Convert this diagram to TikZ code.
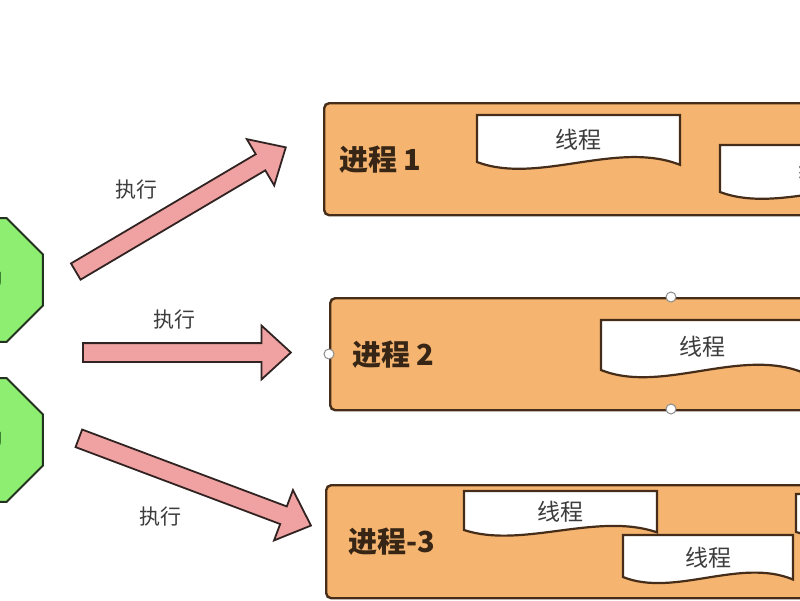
\documentclass[tikz,border=0pt]{standalone}
\usepackage{fontspec}
\setmainfont{Noto Sans CJK SC}
\usetikzlibrary{shapes.geometric,shapes.arrows}

\definecolor{procfill}{RGB}{245,180,111}
\definecolor{procline}{RGB}{70,45,25}
\definecolor{proctext}{RGB}{55,38,22}
\definecolor{threadtext}{RGB}{60,60,60}
\definecolor{cpufill}{RGB}{141,238,113}
\definecolor{cpuline}{RGB}{35,50,30}
\definecolor{arrowfill}{RGB}{240,162,162}
\definecolor{arrowline}{RGB}{50,35,35}

\tikzset{
  proc/.style={draw=procline, fill=procfill, line width=2.4pt, rounded corners=5pt,
    anchor=north west, minimum width=510, inner sep=0},
  proclabel/.style={anchor=west, inner sep=0, text=proctext, font=\fontsize{29}{32}\selectfont\bfseries},
  threadline/.style={draw=procline, fill=white, line width=2.2pt},
  threadlabel/.style={inner sep=0, text=threadtext, font=\fontsize{23}{26}\selectfont},
  cpu/.style={regular polygon, regular polygon sides=8, minimum size=134, inner sep=0,
    draw=cpuline, fill=cpufill, line width=2pt, text=cpuline!80!green, font=\fontsize{22}{24}\selectfont},
  runarrow/.style={single arrow, draw=arrowline, fill=arrowfill, line width=1.8pt,
    inner xsep=0, inner ysep=8.5pt, single arrow head extend=17.5pt, single arrow tip angle=85, anchor=tail},
  runlabel/.style={inner sep=0, text=threadtext, font=\fontsize{21}{24}\selectfont},
  handle/.style={circle, draw=black!45, fill=white, line width=1pt, minimum size=10, inner sep=0},
  pics/thread/.style n args={3}{code={
    \draw[threadline] (0,0) -- (#1,0) -- (#1,{1.06*#2}) .. controls ({0.69*#1},{0.53*#2}) and ({0.3*#1},{1.49*#2}) .. (0,#2) -- cycle;
    \node[threadlabel] (-txt) at ({#1/2},{0.53*#2}) {#3};
  }}
}

\begin{document}
\begin{tikzpicture}[x=1pt, y=-1pt]
	\useasboundingbox (0,0) rectangle (800,600);

	% cpus, cut by the left edge
	\node[cpu] (cpu1) at (-19,280) {CPU};
	\node[cpu] (cpu2) at (-19,440) {CPU};

	% processes
	\node[proc, minimum height=112] (p1) at (323,102) {};
	\node[proc, minimum height=112] (p2) at (329,297) {};
	\node[proc, minimum height=113] (p3) at (325,484) {};

	\node[proclabel] (l1) at (339,160) {进程 1};
	\node[proclabel] (l2) at (352,355) {进程 2};
	\node[proclabel] (l3) at (348,542) {进程-3};

	% threads
	\pic (t1) at (477,115) {thread={203}{47}{线程}};
	\pic (t2) at (720,145) {thread={203}{47}{线程}};
	\pic (t3) at (601,320) {thread={203}{50}{线程}};
	\pic (t4) at (464,491) {thread={193}{39}{线程}};
	\pic (t5) at (623,535) {thread={170}{42}{线程}};
	\pic (t6) at (796,494) {thread={200}{38}{}};

	% selection handles on process 2
	\node[handle] (h1) at (329,354) {};
	\node[handle] (h2) at (671,297) {};
	\node[handle] (h3) at (671,409) {};

	% run arrows
	\node[runarrow, rotate=30.6, minimum height=244] (a1) at (75,272) {};
	\node[runarrow, minimum height=208] (a2) at (82,352.5) {};
	\node[runarrow, rotate=-20.6, minimum height=248] (a3) at (78,438) {};

	\node[runlabel] (r1) at (136,190) {执行};
	\node[runlabel] (r2) at (174,320) {执行};
	\node[runlabel] (r3) at (160,517) {执行};

\end{tikzpicture}
\end{document}
